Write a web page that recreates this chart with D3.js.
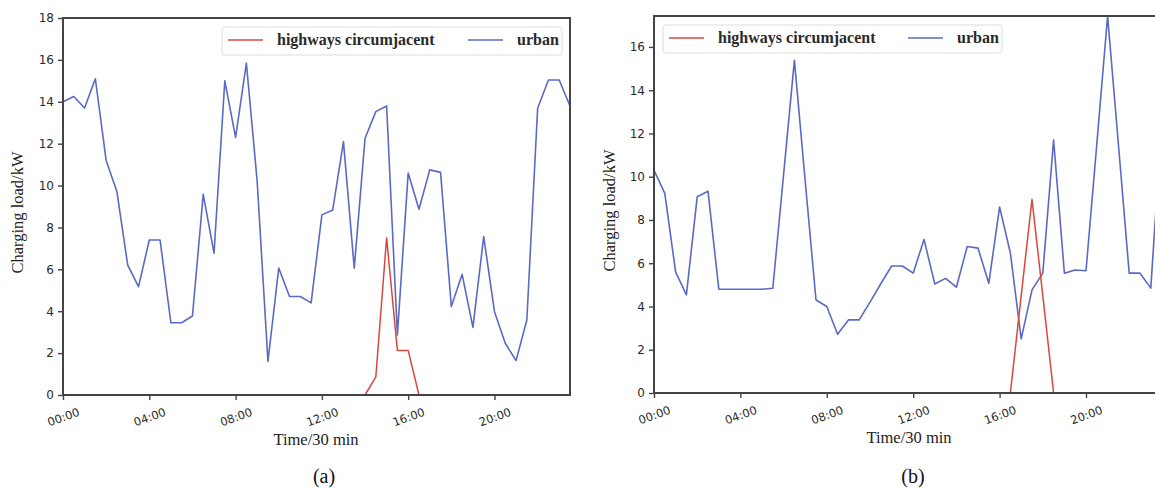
<!DOCTYPE html>
<html>
<head>
<meta charset="utf-8">
<script src="https://cdn.jsdelivr.net/npm/d3@7"></script>
<style>
    body { margin: 0; background: #fff; }
    svg { display: block; }
</style>
</head>
<body>
<svg id="chart" width="1155" height="489"></svg>
<script>
// half-hour slots, 00:00 .. 23:30
const slots = d3.range(48);
const tickSlots = [0, 8, 16, 24, 32, 40];
const tickLabels = ['00:00', '04:00', '08:00', '12:00', '16:00', '20:00'];
const seriesNames = ['highways circumjacent', 'urban'];

const urbanA = [14.0, 14.25, 13.7, 15.1, 11.2, 9.7, 6.2, 5.17, 7.4, 7.4, 3.45, 3.45,
    3.77, 9.58, 6.77, 15.0, 12.3, 15.85, 10.2, 1.6, 6.06, 4.7, 4.7, 4.4,
    8.6, 8.83, 12.1, 6.05, 12.26, 13.53, 13.8, 2.87, 10.6, 8.87, 10.75, 10.63,
    4.22, 5.76, 3.23, 7.56, 3.98, 2.47, 1.64, 3.58, 13.69, 15.04, 15.04, 13.8];
const highwayA = [0, 0, 0, 0, 0, 0, 0, 0, 0, 0, 0, 0,
    0, 0, 0, 0, 0, 0, 0, 0, 0, 0, 0, 0,
    0, 0, 0, 0, 0, 0.87, 7.5, 2.12, 2.12, 0, 0, 0,
    0, 0, 0, 0, 0, 0, 0, 0, 0, 0, 0, 0];

const urbanB = [10.3, 9.23, 5.6, 4.54, 9.07, 9.33, 4.8, 4.8, 4.8, 4.8, 4.8, 4.84,
    10.1, 15.38, 9.8, 4.3, 4.0, 2.72, 3.38, 3.38, 4.2, 5.05, 5.87, 5.87,
    5.54, 7.1, 5.04, 5.3, 4.89, 6.77, 6.7, 5.07, 8.6, 6.46, 2.5, 4.77,
    5.54, 11.69, 5.54, 5.69, 5.65, 11.5, 17.43, 11.5, 5.54, 5.54, 4.85, 12.5];
const highwayB = [0, 0, 0, 0, 0, 0, 0, 0, 0, 0, 0, 0,
    0, 0, 0, 0, 0, 0, 0, 0, 0, 0, 0, 0,
    0, 0, 0, 0, 0, 0, 0, 0, 0, 0, 4.5, 8.95,
    4.5, 0, 0, 0, 0, 0, 0, 0, 0, 0, 0, 0];

const yTicksA = [0, 2, 4, 6, 8, 10, 12, 14, 16, 18];
const yTicksB = [0, 2, 4, 6, 8, 10, 12, 14, 16];

const colors = { highway: '#d8473d', urban: '#5a6ac4' };
const serif = '"Liberation Serif", "DejaVu Serif", serif';
const sans = '"DejaVu Sans", "Liberation Sans", sans-serif';

const svg = d3.select('#chart');

const drawPanel = p => {
    const x = d3.scaleLinear().domain([0, 47]).range([p.left, p.right]);
    const y = d3.scaleLinear().domain([0, p.yMax]).range([p.bottom, p.top]);
    const g = svg.append('g');

    const line = d3.line()
        .x((d, i) => x(slots[i]))
        .y(d => y(d));

    g.append('path')
        .datum(p.urban)
        .attr('d', line)
        .attr('fill', 'none')
        .attr('stroke', colors.urban)
        .attr('stroke-width', 1.6)
        .attr('stroke-linejoin', 'round');

    g.append('path')
        .datum(p.highway)
        .attr('d', line)
        .attr('fill', 'none')
        .attr('stroke', colors.highway)
        .attr('stroke-width', 1.5)
        .attr('stroke-linejoin', 'round');

    // frame
    g.append('rect')
        .attr('x', p.left)
        .attr('y', p.top)
        .attr('width', p.right - p.left)
        .attr('height', p.bottom - p.top)
        .attr('fill', 'none')
        .attr('stroke', '#444')
        .attr('stroke-width', 2);

    const yAxis = g.append('g')
        .attr('transform', `translate(${p.left},0)`)
        .call(d3.axisLeft(y).tickValues(p.yTicks).tickSize(5).tickPadding(4));
    yAxis.select('.domain').remove();
    yAxis.selectAll('line').attr('stroke', '#444').attr('stroke-width', 1.4);
    yAxis.selectAll('text')
        .attr('font-family', sans)
        .attr('font-size', '12px')
        .attr('fill', '#2b2b2b');

    const xAxis = g.append('g')
        .attr('transform', `translate(0,${p.bottom})`)
        .call(d3.axisBottom(x).tickValues(tickSlots).tickSize(5)
            .tickFormat((d, i) => tickLabels[i]));
    xAxis.select('.domain').remove();
    xAxis.selectAll('line').attr('stroke', '#444').attr('stroke-width', 1.4);
    xAxis.selectAll('text')
        .attr('y', 0)
        .attr('dy', '0.35em')
        .attr('transform', 'translate(0,22) rotate(-20)')
        .attr('font-family', sans)
        .attr('font-size', '11.5px')
        .attr('fill', '#2b2b2b');

    g.append('text')
        .attr('transform', `translate(${p.yLabelX},${(p.top + p.bottom) / 2 + 6}) rotate(-90)`)
        .attr('text-anchor', 'middle')
        .attr('font-family', serif)
        .attr('font-size', '16.5px')
        .attr('fill', '#222')
        .text('Charging load/kW');

    g.append('text')
        .attr('x', p.xLabelX)
        .attr('y', p.bottom + 50)
        .attr('text-anchor', 'middle')
        .attr('font-family', serif)
        .attr('font-size', '16.5px')
        .attr('fill', '#222')
        .text('Time/30 min');

    g.append('text')
        .attr('x', p.captionX)
        .attr('y', 483)
        .attr('text-anchor', 'middle')
        .attr('font-family', serif)
        .attr('font-size', '20px')
        .attr('fill', '#111')
        .text(p.caption);

    // legend
    const lg = g.append('g').attr('transform', `translate(${p.legendX},${p.legendY})`);
    lg.append('rect')
        .attr('width', p.legendW)
        .attr('height', 28)
        .attr('rx', 3)
        .attr('fill', '#fff')
        .attr('fill-opacity', 0.9)
        .attr('stroke', '#ddd');
    const items = [
        { name: seriesNames[0], color: colors.highway, off: 6 },
        { name: seriesNames[1], color: colors.urban, off: p.legendUrbanOff }
    ];
    items.forEach(it => {
        lg.append('line')
            .attr('x1', it.off).attr('x2', it.off + 35)
            .attr('y1', 13).attr('y2', 13)
            .attr('stroke', it.color)
            .attr('stroke-width', 1.6);
        lg.append('text')
            .attr('x', it.off + 49)
            .attr('y', 18)
            .attr('font-family', serif)
            .attr('font-size', '16px')
            .attr('font-weight', 'bold')
            .attr('fill', '#2a2a2a')
            .text(it.name);
    });
};

drawPanel({
    urban: urbanA, highway: highwayA, yMax: 18, yTicks: yTicksA,
    left: 63, right: 570, top: 18, bottom: 395,
    yLabelX: 23, xLabelX: 316, captionX: 324, caption: '(a)',
    legendX: 222, legendY: 27, legendW: 340, legendUrbanOff: 246
});

drawPanel({
    urban: urbanB, highway: highwayB, yMax: d3.max(urbanB), yTicks: yTicksB,
    left: 654, right: 1161.6, top: 16, bottom: 393,
    yLabelX: 615, xLabelX: 909, captionX: 913, caption: '(b)',
    legendX: 663, legendY: 25, legendW: 339, legendUrbanOff: 245
});
</script>
</body>
</html>
